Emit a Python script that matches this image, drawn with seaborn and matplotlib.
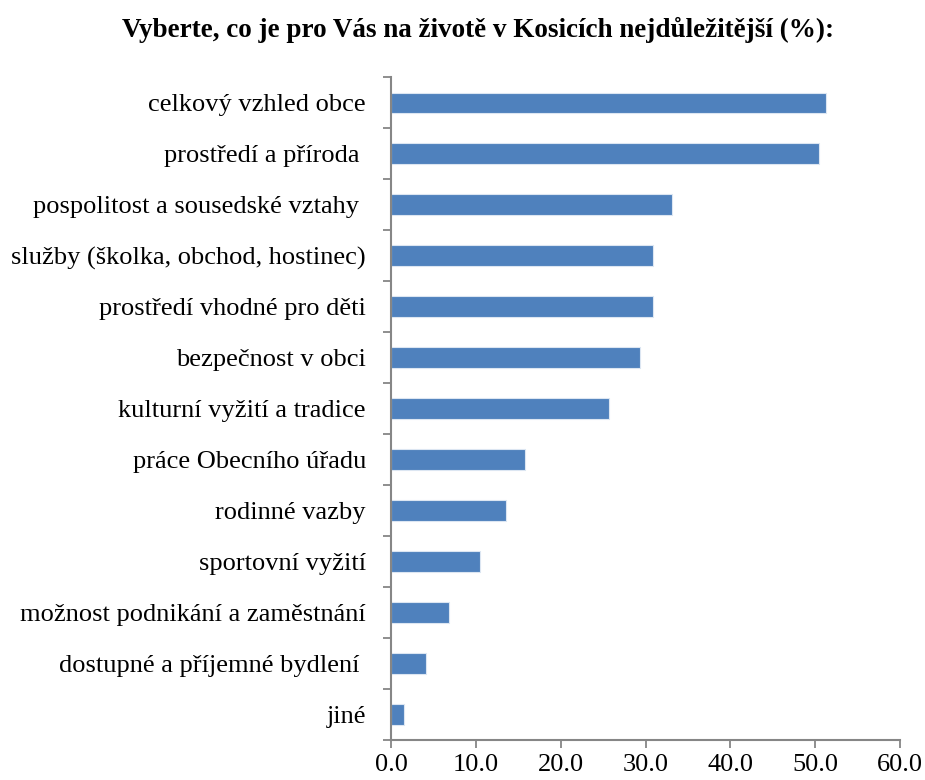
import numpy as np
import pandas as pd
import matplotlib
matplotlib.use('Agg')
import matplotlib.pyplot as plt
import seaborn as sns

# Data
categories = [
    'celkový vzhled obce',
    'prostředí a příroda ',
    'pospolitost a sousedské vztahy ',
    'služby (školka, obchod, hostinec)',
    'prostředí vhodné pro děti',
    'bezpečnost v obci',
    'kulturní vyžití a tradice',
    'práce Obecního úřadu',
    'rodinné vazby',
    'sportovní vyžití',
    'možnost podnikání a zaměstnání',
    'dostupné a příjemné bydlení ',
    'jiné',
]
values = [51.3, 50.5, 33.1, 30.9, 30.9, 29.3, 25.7, 15.8, 13.5, 10.5, 6.8, 4.1, 1.5]
x_ticks = [0, 10, 20, 30, 40, 50, 60]

df = pd.DataFrame({'category': categories, 'value': values})

sns.set_style('white')
plt.rcParams['font.family'] = ['Liberation Serif', 'DejaVu Serif']

fig = plt.figure(figsize=(9.25, 7.8), dpi=100)
ax = fig.add_axes([0.4227, 0.0513, 0.5503, 0.8497])

sns.barplot(data=df, x='value', y='category', orient='h', color='#4F81BD',
            width=0.4, saturation=1, edgecolor='#DCE6F2', linewidth=0.8, ax=ax)

ax.set_xlim(0, 60)
ax.set_ylim(len(categories) - 0.5, -0.5)
ax.set_xticks(x_ticks)
ax.set_xticklabels([f'{t:.1f}' for t in x_ticks], fontsize=19, color='black')
ax.set_yticks(range(len(categories)))
ax.set_yticklabels(categories, fontsize=19, color='black')
ax.set_yticks(np.arange(-0.5, len(categories)), minor=True)
ax.tick_params(axis='y', which='major', left=True, length=0, pad=18)
ax.tick_params(axis='y', which='minor', left=True, length=6, width=1.3, color='#868686', direction='out')
ax.tick_params(axis='x', which='major', bottom=True, length=6, width=1.3, color='#868686', direction='out', pad=4)
ax.set_xlabel('')
ax.set_ylabel('')

for side in ['top', 'right']:
    ax.spines[side].set_visible(False)
for side in ['left', 'bottom']:
    ax.spines[side].set_color('#868686')
    ax.spines[side].set_linewidth(1.5)

fig.text(0.517, 0.962, 'Vyberte, co je pro Vás na životě v Kosicích nejdůležitější (%):',
         ha='center', va='center', fontsize=19.5, fontweight='bold', color='black')

fig.savefig('out.png', dpi=100, facecolor='white')
